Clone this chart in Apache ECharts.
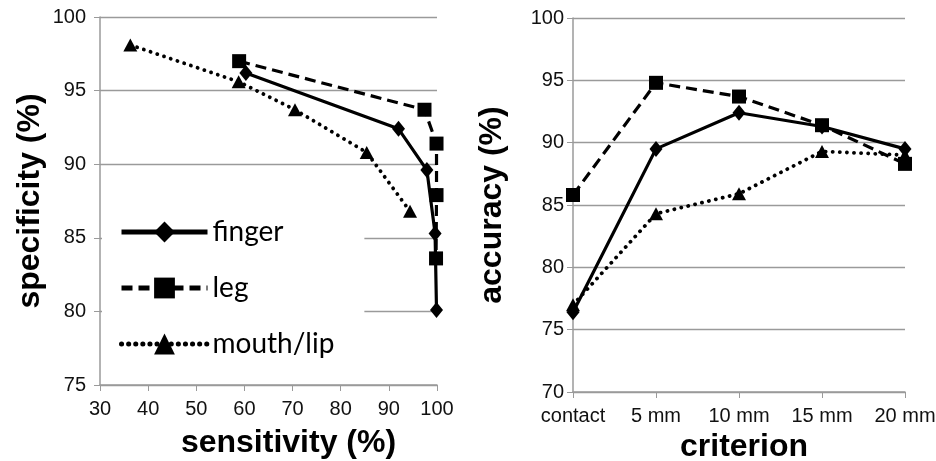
<!doctype html>
<html lang="en">
<head>
    <meta charset="utf-8">
    <script src="https://cdn.jsdelivr.net/npm/echarts@6.0.0/dist/echarts.min.js"></script>
    <title>Detection criteria</title>
    <style>
        html, body { margin: 0; padding: 0; background: #fff; }
        #chart { width: 936px; height: 461px; }
    </style>
</head>
<body>
<div id="chart"></div>

<script type="text/javascript">
    // left panel: sensitivity vs specificity
    const sensFinger = [60.3, 92.0, 97.9, 99.6, 99.9];
    const specFinger = [96.2, 92.4, 89.6, 85.3, 80.1];
    const sensLeg = [58.9, 97.4, 99.9, 99.9, 99.8];
    const specLeg = [97.0, 93.7, 91.4, 87.9, 83.6];
    const sensMouth = [36.3, 58.8, 70.5, 85.4, 94.4];
    const specMouth = [98.1, 95.6, 93.7, 90.8, 86.8];

    // right panel: accuracy per criterion
    const criteria = ['contact', '5 mm', '10 mm', '15 mm', '20 mm'];
    const accFinger = [76.4, 89.5, 92.4, 91.3, 89.5];
    const accLeg = [85.8, 94.8, 93.7, 91.4, 88.3];
    const accMouth = [77.0, 84.3, 85.9, 89.3, 89.0];

    const names = ['finger', 'leg', 'mouth/lip'];

    function pairs(xs, ys) {
        return xs.map((x, i) => [x, ys[i]]);
    }

    const axisGray = '#9a9a9a';
    const labelFont = {color: '#111', fontSize: 20, fontFamily: 'Liberation Sans'};
    const nameFont = {color: '#000', fontSize: 32, fontWeight: 'bold', fontFamily: 'Liberation Sans'};

    const looks = {
        finger: {
            symbol: 'diamond', symbolSize: [13, 16],
            lineStyle: {color: '#000', width: 3.2, type: 'solid'}
        },
        leg: {
            symbol: 'rect', symbolSize: 14,
            lineStyle: {color: '#000', width: 3.2, type: [11, 6]}
        },
        'mouth/lip': {
            symbol: 'triangle', symbolSize: [14, 13],
            lineStyle: {color: '#000', width: 3.8, type: [0.1, 7], cap: 'round'}
        }
    };

    function makeSeries(name, data, gridIdx) {
        const look = looks[name];
        return {
            name: name,
            type: 'line',
            xAxisIndex: gridIdx,
            yAxisIndex: gridIdx,
            data: data,
            symbol: look.symbol,
            symbolSize: look.symbolSize,
            showAllSymbol: true,
            itemStyle: {color: '#000'},
            lineStyle: look.lineStyle,
            emphasis: {disabled: true},
            animation: false
        };
    }

    const chart = echarts.init(document.getElementById('chart'), null, {renderer: 'canvas'});

    function yAxisCommon(min, name, nameGap, labelMargin) {
        return {
            type: 'value',
            min: min,
            max: 100,
            interval: 5,
            name: name,
            nameLocation: 'middle',
            nameGap: nameGap,
            nameTextStyle: nameFont,
            axisLine: {show: true, lineStyle: {color: axisGray, width: 1.5}},
            axisTick: {show: true, length: 6, lineStyle: {color: axisGray}},
            axisLabel: Object.assign({margin: labelMargin}, labelFont),
            splitLine: {show: true, lineStyle: {color: axisGray, width: 1.3}}
        };
    }

    chart.setOption({
        backgroundColor: '#fff',
        animation: false,
        grid: [
            {left: 100, top: 17, width: 337, height: 368, outerBoundsMode: 'none', containLabel: false},
            {left: 573, top: 18, width: 332, height: 374, outerBoundsMode: 'none', containLabel: false}
        ],
        legend: {
            data: names,
            orient: 'vertical',
            left: 102,
            top: 212,
            itemWidth: 86,
            itemHeight: 26,
            itemGap: 28,
            padding: [6, 30, 6, 17],
            backgroundColor: '#fff',
            lineStyle: {width: 5},
            textStyle: {color: '#000', fontSize: 28, fontFamily: 'Lato'},
            selectedMode: false
        },
        xAxis: [
            {
                gridIndex: 0,
                type: 'value',
                min: 30,
                max: 100,
                interval: 10,
                name: 'sensitivity (%)',
                nameLocation: 'middle',
                nameGap: 42,
                nameTextStyle: Object.assign({padding: [0, 0, 0, 40]}, nameFont),
                axisLine: {show: true, onZero: false, lineStyle: {color: axisGray, width: 1.5}},
                axisTick: {show: true, length: 6, lineStyle: {color: axisGray}},
                axisLabel: Object.assign({margin: 14}, labelFont),
                splitLine: {show: false}
            },
            {
                gridIndex: 1,
                type: 'category',
                data: criteria,
                boundaryGap: false,
                name: 'criterion',
                nameLocation: 'middle',
                nameGap: 36,
                nameTextStyle: Object.assign({padding: [0, 0, 0, 10]}, nameFont),
                axisLine: {show: true, onZero: false, lineStyle: {color: axisGray, width: 1.5}},
                axisTick: {show: true, length: 6, alignWithLabel: true, lineStyle: {color: axisGray}},
                axisLabel: Object.assign({margin: 14, interval: 0}, labelFont),
                splitLine: {show: false}
            }
        ],
        yAxis: [
            Object.assign({gridIndex: 0}, yAxisCommon(75, 'specificity (%)', 54, 14)),
            Object.assign({gridIndex: 1}, yAxisCommon(70, 'accuracy (%)', 65, 9))
        ],
        series: [
            makeSeries('finger', pairs(sensFinger, specFinger), 0),
            makeSeries('leg', pairs(sensLeg, specLeg), 0),
            makeSeries('mouth/lip', pairs(sensMouth, specMouth), 0),
            makeSeries('finger', accFinger, 1),
            makeSeries('leg', accLeg, 1),
            makeSeries('mouth/lip', accMouth, 1)
        ]
    });
</script>
</body>
</html>
